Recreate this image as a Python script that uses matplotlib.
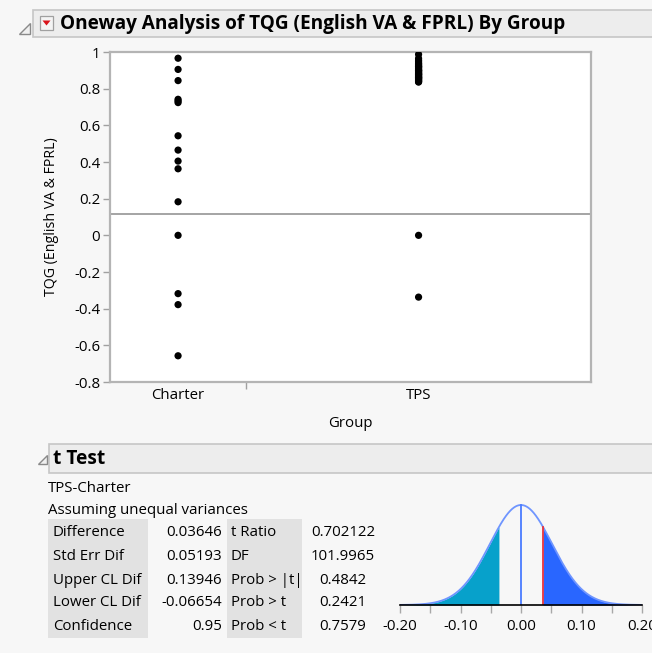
import math
import numpy as np
import matplotlib
matplotlib.use("Agg")
import matplotlib.pyplot as plt
from matplotlib.patches import Rectangle, Polygon

plt.rcParams['font.family'] = ['Open Sans', 'DejaVu Sans']

# ---------------- data ----------------
groups = ["Charter", "TPS"]
charter_values = [0.966, 0.905, 0.844, 0.742, 0.733, 0.724, 0.543, 0.465, 0.405,
                  0.363, 0.183, 0.0, -0.318, -0.378, -0.657]
tps_values = [0.987, 0.965, 0.955, 0.948, 0.94, 0.935, 0.93, 0.925, 0.92, 0.915,
              0.91, 0.905, 0.9, 0.897, 0.893, 0.89, 0.886, 0.882, 0.878, 0.875,
              0.872, 0.868, 0.865, 0.862, 0.858, 0.855, 0.852, 0.848, 0.845, 0.842,
              0.838, 0.836, 0.9, 0.88, 0.86, 0.92, 0.0, -0.337]
grand_mean = 0.118
y_ticks = [1, 0.8, 0.6, 0.4, 0.2, 0, -0.2, -0.4, -0.6, -0.8]
y_tick_labels = ["1", "0.8", "0.6", "0.4", "0.2", "0", "-0.2", "-0.4", "-0.6", "-0.8"]

title = "Oneway Analysis of TQG (English VA & FPRL) By Group"
y_label = "TQG (English VA & FPRL)"
x_label = "Group"

ttest_title = "t Test"
ttest_sub1 = "TPS-Charter"
ttest_sub2 = "Assuming unequal variances"
left_labels = ["Difference", "Std Err Dif", "Upper CL Dif", "Lower CL Dif", "Confidence"]
left_values = ["0.03646", "0.05193", "0.13946", "-0.06654", "0.95"]
right_labels = ["t Ratio", "DF", "Prob > |t|", "Prob > t", "Prob < t"]
right_values = ["0.702122", "101.9965", "0.4842", "0.2421", "0.7579"]

difference = 0.03646
std_err = 0.05193
dof = 101.9965
dist_ticks = [-0.20, -0.15, -0.10, -0.05, 0.0, 0.05, 0.10, 0.15, 0.20]
dist_tick_labels = ["-0.20", "", "-0.10", "", "0.00", "", "0.10", "", "0.20"]

# ---------------- figure ----------------
W, H = 652, 653
BG = "#f7f7f7"
FS = 10.8
fig = plt.figure(figsize=(W / 100, H / 100), dpi=100, facecolor=BG)


def px_axes(x0, y0, x1, y1, **kw):
    return fig.add_axes([x0 / W, 1 - y1 / H, (x1 - x0) / W, (y1 - y0) / H], **kw)


# overlay for report decorations
ov = px_axes(0, 0, W, H)
ov.set_xlim(0, W)
ov.set_ylim(H, 0)
ov.axis("off")
ov.set_zorder(0)


def header(x0, y0, x1, y1):
    ov.add_patch(Rectangle((x0, y0), x1 - x0, y1 - y0, facecolor="#ededed",
                           edgecolor="#c6c6c6", lw=1.2))


def disclosure(cx, cy, s=5.5):
    ov.add_patch(Polygon([[cx + s, cy - s], [cx + s, cy + s], [cx - s, cy + s]],
                         closed=True, facecolor="#f0f0f0", edgecolor="#8a8a8a", lw=1.0))


# main header
header(33, 10, 660, 37)
disclosure(24, 28)
ov.add_patch(Rectangle((40, 16), 13, 14, facecolor="#f4f4f4", edgecolor="#a0a0a0", lw=0.9))
ov.add_patch(Polygon([[42.5, 20.5], [50.5, 20.5], [46.5, 25.5]], closed=True,
                     facecolor="#d9141c", edgecolor="none"))
ov.text(60, 23.5, title, fontsize=13.7, fontweight="bold", va="center", ha="left",
        color="black")

# t test header
header(49, 444, 660, 473)
disclosure(42, 459, 4.5)
ov.text(53, 459, ttest_title, fontsize=13.8, fontweight="bold", va="center", ha="left")

ov.text(48, 488, ttest_sub1, fontsize=FS, va="center", ha="left")
ov.text(48, 510, ttest_sub2, fontsize=FS, va="center", ha="left")
ov.add_patch(Rectangle((48, 519), 100, 119, facecolor="#e2e2e2", edgecolor="none"))
ov.add_patch(Rectangle((227, 519), 75, 119, facecolor="#e2e2e2", edgecolor="none"))
row_y = [533, 556, 580, 603, 627]
for i, yy in enumerate(row_y):
    ov.text(53, yy, left_labels[i], fontsize=FS, va="center", ha="left")
    ov.text(222, yy, left_values[i], fontsize=FS, va="center", ha="right")
    ov.text(231, yy, right_labels[i], fontsize=FS, va="center", ha="left")
    ov.text(343, yy, right_values[i], fontsize=FS, va="center", ha="center")

# ---------------- main oneway plot ----------------
ax = px_axes(110, 52, 591, 382)
ax.set_zorder(2)
ax.set_facecolor("white")
counts = [len(charter_values), len(tps_values)]
total = sum(counts)
edges = np.concatenate([[0], np.cumsum(counts)]) / total
centers = (edges[:-1] + edges[1:]) / 2
for vals, cx in zip([charter_values, tps_values], centers):
    ax.scatter(np.full(len(vals), cx), vals, s=27, color="black", zorder=3,
               edgecolors="none")
ax.axhline(grand_mean, color="#8c8c8c", lw=1.1, zorder=2)
ax.set_xlim(0, 1)
ax.set_ylim(-0.8, 1.0)
ax.set_yticks(y_ticks)
ax.set_yticklabels(y_tick_labels)
ax.set_xticks(edges[1:-1])
ax.set_xticklabels([])
ax.set_xticks(centers, minor=True)
ax.set_xticklabels(groups, minor=True)
ax.tick_params(axis="x", which="minor", length=0, pad=4.5, labelsize=FS)
ax.tick_params(axis="x", which="major", length=5, color="#a0a0a0", width=1)
ax.tick_params(axis="y", length=5, color="#a0a0a0", width=1, labelsize=FS, pad=2)
for sp in ax.spines.values():
    sp.set_color("#b4b4b4")
    sp.set_linewidth(1.6)
ax.set_ylabel(y_label, fontsize=10.2, labelpad=11)
ax.set_xlabel(x_label, fontsize=FS, labelpad=9)

# ---------------- t distribution plot ----------------
dx = px_axes(400, 500, 642, 605)
dx.set_zorder(2)
dx.patch.set_alpha(0)
xs = np.linspace(-0.2, 0.2, 801)
coef = math.exp(math.lgamma((dof + 1) / 2) - math.lgamma(dof / 2)) / math.sqrt(dof * math.pi)
pdf = coef * (1 + (xs / std_err) ** 2 / dof) ** (-(dof + 1) / 2) / std_err
peak = pdf.max()
dx.fill_between(xs, 0, pdf, where=xs <= -difference, color="#07a1cb", lw=0)
dx.fill_between(xs, 0, pdf, where=xs >= difference, color="#2966ff", lw=0)
dx.plot(xs, pdf, color="#6f95ff", lw=1.3)
dx.plot([0, 0], [0, peak], color="#4a7cff", lw=1.3)
pdf_d = coef * (1 + (difference / std_err) ** 2 / dof) ** (-(dof + 1) / 2) / std_err
dx.plot([difference, difference], [0, pdf_d], color="#e8333c", lw=1.3)
dx.set_xlim(-0.2, 0.2)
dx.set_ylim(0, peak * 1.05)
for s in ["top", "right", "left"]:
    dx.spines[s].set_visible(False)
dx.spines["bottom"].set_color("black")
dx.spines["bottom"].set_linewidth(1.2)
dx.set_yticks([])
dx.set_xticks(dist_ticks)
dx.set_xticklabels(dist_tick_labels)
dx.tick_params(axis="x", length=6, color="#a8a8a8", width=1, labelsize=FS, pad=4)

fig.savefig("out.png", dpi=100, facecolor=BG)
